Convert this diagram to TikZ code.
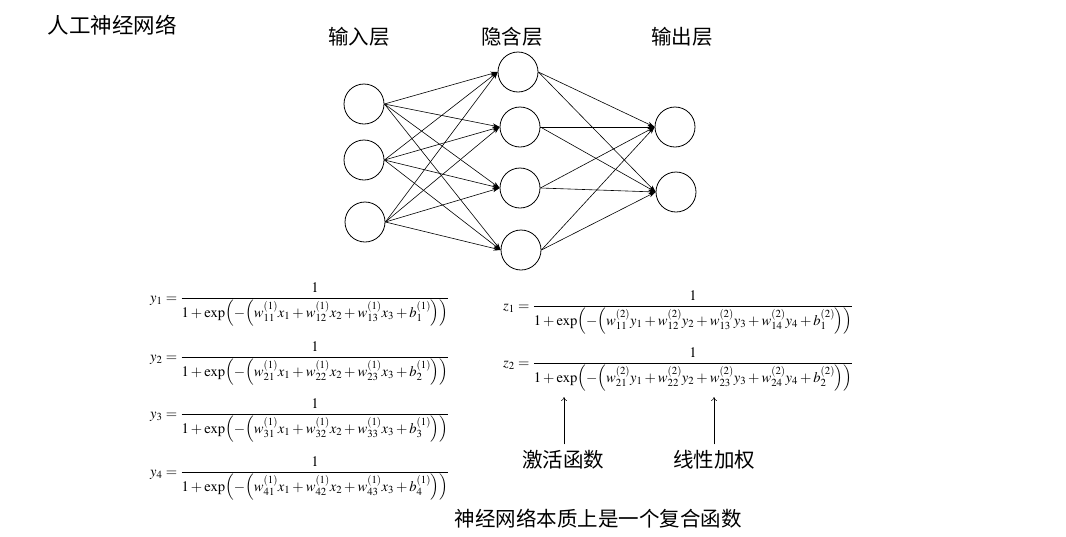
\documentclass[tikz,border=0pt]{standalone}
\usepackage{mathptmx}
\usepackage[no-math]{fontspec}
\newfontfamily\cjk{Noto Sans CJK SC}
\usetikzlibrary{arrows.meta}
\newcommand{\dfr}[2]{{\displaystyle\frac{#1}{#2}}}
\begin{document}
\begin{tikzpicture}[x=1pt,y=-1pt,
  neuron/.style={circle,draw,line width=0.8pt,minimum size=40pt,inner sep=0pt},
  conn/.style={line width=0.6pt,-{Stealth[length=7pt,width=4.5pt,inset=2pt]}},
  cn/.style={font=\cjk\fontsize{20.5}{24}\selectfont,inner sep=0pt},
  eq/.style={font=\fontsize{14.6}{17}\selectfont,inner sep=0pt,anchor=base west},
  pointer/.style={line width=0.5pt,-{To[length=4pt,width=6pt]}}]
\useasboundingbox (0,0) rectangle (1066,536);
% titles
\node[cn,font=\cjk\fontsize{21.5}{24}\selectfont] (title) at (112,25) {人工神经网络};
\node[cn] (lin) at (359,37) {输入层};
\node[cn] (lhid) at (512,37) {隐含层};
\node[cn] (lout) at (682,37) {输出层};
% neurons
\node[neuron] (i1) at (364,104) {};
\node[neuron] (i2) at (364,160) {};
\node[neuron] (i3) at (365,222) {};
\node[neuron] (h1) at (518,72) {};
\node[neuron] (h2) at (520,127) {};
\node[neuron] (h3) at (520,188) {};
\node[neuron] (h4) at (521,250) {};
\node[neuron] (o1) at (675,127) {};
\node[neuron] (o2) at (676,192) {};
\foreach \i in {1,2,3}{\foreach \h in {1,2,3,4}{\draw[conn] (i\i.east) -- (h\h.west);}}
\foreach \h in {1,2,3,4}{\foreach \o in {1,2}{\draw[conn] (h\h.east) -- (o\o.west);}}
% formulas
\node[eq] (ya) at (150,302) {$y_1=\dfr{1}{1+\exp\Bigl(-\Bigl(w_{11}^{(1)}x_1+w_{12}^{(1)}x_2+w_{13}^{(1)}x_3+b_1^{(1)}\Bigr)\Bigr)}$};
\node[eq] (yb) at (150,361) {$y_2=\dfr{1}{1+\exp\Bigl(-\Bigl(w_{21}^{(1)}x_1+w_{22}^{(1)}x_2+w_{23}^{(1)}x_3+b_2^{(1)}\Bigr)\Bigr)}$};
\node[eq] (yc) at (150,418) {$y_3=\dfr{1}{1+\exp\Bigl(-\Bigl(w_{31}^{(1)}x_1+w_{32}^{(1)}x_2+w_{33}^{(1)}x_3+b_3^{(1)}\Bigr)\Bigr)}$};
\node[eq] (yd) at (150,476) {$y_4=\dfr{1}{1+\exp\Bigl(-\Bigl(w_{41}^{(1)}x_1+w_{42}^{(1)}x_2+w_{43}^{(1)}x_3+b_4^{(1)}\Bigr)\Bigr)}$};
\node[eq] (za) at (503,310) {$z_1=\dfr{1}{1+\exp\Bigl(-\Bigl(w_{11}^{(2)}y_1+w_{12}^{(2)}y_2+w_{13}^{(2)}y_3+w_{14}^{(2)}y_4+b_1^{(2)}\Bigr)\Bigr)}$};
\node[eq] (zb) at (503,367) {$z_2=\dfr{1}{1+\exp\Bigl(-\Bigl(w_{21}^{(2)}y_1+w_{22}^{(2)}y_2+w_{23}^{(2)}y_3+w_{24}^{(2)}y_4+b_2^{(2)}\Bigr)\Bigr)}$};
% annotations
\node[cn] (act) at (563,460) {激活函数};
\node[cn] (lin2) at (714,460) {线性加权};
\coordinate (acttip) at (564,397);
\coordinate (lintip) at (714,397);
\draw[pointer] (act.north -| acttip) ++(0,-6) -- (acttip);
\draw[pointer] (lin2.north -| lintip) ++(0,-6) -- (lintip);
\node[cn] (summary) at (598,519) {神经网络本质上是一个复合函数};
\end{tikzpicture}
\end{document}
